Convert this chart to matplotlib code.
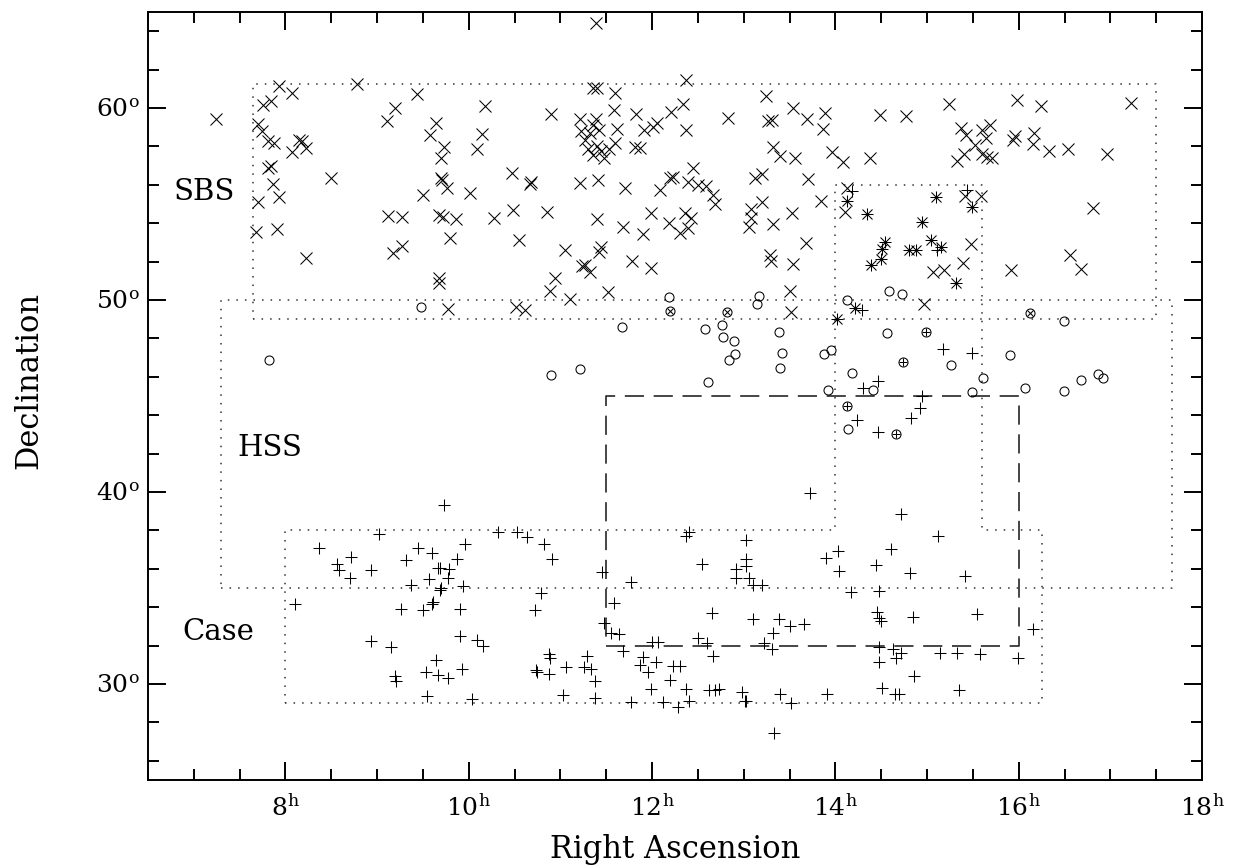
import matplotlib
matplotlib.use("Agg")
import matplotlib.pyplot as plt
from matplotlib.ticker import MultipleLocator, FuncFormatter

plt.rcParams["font.family"] = ["DejaVu Serif"]
plt.rcParams["mathtext.fontset"] = "dejavuserif"

# SBS objects only (crosses)
sbs_ra = [7.24, 7.93, 8.07, 8.78, 9.43, 7.75, 7.84, 9.20, 9.11, 9.64,
          7.70, 7.74, 9.58, 7.81, 7.87, 8.15, 8.18, 8.22, 8.07, 9.73,
          9.70, 7.84, 7.81, 8.50, 9.70, 9.71, 9.76, 7.86, 7.93, 9.50,
          7.70, 9.12, 9.27, 9.67, 9.72, 9.86, 7.68, 7.91, 9.80, 9.17,
          9.27, 8.22, 9.67, 9.67, 9.77,
          11.36, 11.40, 11.60, 12.37, 12.34, 12.21, 10.18, 10.90, 11.58, 11.82,
          11.21, 11.39, 11.35, 11.22, 11.32, 11.42, 11.62, 11.27, 11.40, 11.30,
          11.36, 11.44, 11.48, 11.53, 11.59, 11.81, 11.87, 11.91, 12.01, 12.05,
          12.37, 10.09, 10.14, 12.45, 12.20, 12.23, 12.39, 12.50, 12.59, 12.67,
          12.69, 10.47, 10.68, 10.67, 11.21, 11.41, 11.70, 12.09, 10.01, 10.28,
          10.48, 10.85, 11.40, 11.68, 11.90, 11.99, 12.18, 12.36, 12.43, 12.39,
          12.31, 10.55, 11.05, 11.44, 11.42, 11.78, 11.99, 11.24, 11.27, 11.32,
          10.94, 10.89, 11.10, 11.52, 10.52, 10.61, 11.39,
          13.24, 13.54, 12.83, 13.26, 13.31, 13.69, 13.89, 13.87, 14.49, 14.77,
          15.24, 15.37, 15.43, 15.52, 15.40, 15.33, 13.32, 13.40, 13.56, 13.96,
          14.08, 14.38, 13.12, 13.20, 13.70, 13.20, 13.08, 13.08, 13.06, 13.32,
          13.53, 13.84, 13.68, 13.29, 13.30, 13.54, 13.50, 13.52, 14.13, 14.11,
          15.41, 15.59, 15.48, 15.39, 15.06, 15.18, 14.97,
          15.98, 16.24, 17.23, 15.60, 15.69, 15.64, 15.96, 15.94, 16.17, 16.16,
          16.33, 16.54, 16.96, 15.60, 15.65, 15.71, 16.81, 16.56, 16.68, 15.92]
sbs_dec = [59.44, 61.14, 60.76, 61.23, 60.71, 60.14, 60.35, 60.00, 59.31, 59.22,
           59.15, 58.81, 58.58, 58.29, 58.18, 58.35, 58.30, 57.94, 57.72, 57.97,
           57.37, 56.97, 56.85, 56.33, 56.33, 56.23, 55.85, 56.05, 55.38, 55.47,
           55.08, 54.39, 54.33, 54.43, 54.34, 54.22, 53.56, 53.70, 53.25, 52.44,
           52.82, 52.21, 51.14, 50.88, 49.53,
           61.05, 61.05, 60.79, 61.44, 60.22, 59.79, 60.10, 59.70, 59.88, 59.67,
           59.41, 59.41, 59.10, 58.81, 58.70, 58.84, 58.93, 58.32, 58.03, 57.89,
           57.54, 57.75, 57.40, 57.86, 58.18, 57.97, 57.94, 58.87, 59.01, 59.22,
           58.84, 57.84, 58.67, 56.85, 56.37, 56.42, 56.12, 55.99, 55.95, 55.47,
           54.98, 56.64, 56.16, 56.02, 56.07, 56.25, 55.81, 55.73, 55.55, 54.29,
           54.69, 54.57, 54.20, 53.79, 53.44, 54.55, 54.03, 54.51, 54.25, 53.73,
           53.48, 53.10, 52.58, 52.75, 52.49, 52.01, 51.66, 51.75, 51.80, 51.44,
           51.14, 50.45, 50.07, 50.41, 49.63, 49.50, 64.43,
           60.61, 60.02, 59.50, 59.32, 59.36, 59.41, 59.76, 58.93, 59.62, 59.58,
           60.19, 58.96, 58.61, 58.06, 57.58, 57.25, 57.97, 57.51, 57.37, 57.72,
           57.20, 57.37, 56.33, 56.55, 56.30, 55.08, 54.74, 54.29, 53.79, 53.96,
           54.51, 55.16, 52.96, 52.35, 52.01, 51.89, 50.49, 49.38, 55.85, 54.60,
           55.43, 55.42, 52.93, 51.95, 51.45, 51.58, 49.79,
           60.43, 60.09, 60.27, 58.87, 59.10, 58.44, 58.55, 58.32, 58.72, 58.11,
           57.75, 57.89, 57.60, 57.63, 57.46, 57.37, 54.81, 52.35, 51.63, 51.54]

# HSS objects only (circles)
hss_ra = [9.48, 12.18, 14.58, 14.73, 14.13, 13.17, 13.14, 16.49, 14.56, 11.67,
          12.58, 12.76, 12.77, 12.89, 12.91, 12.84, 13.38, 13.42, 13.40, 12.61,
          13.88, 13.95, 13.92, 14.18, 14.41, 14.14, 15.26, 15.90, 15.61, 15.49,
          16.07, 16.49, 16.68, 16.86, 16.92, 7.82, 10.90, 11.21]
hss_dec = [49.62, 50.14, 50.49, 50.33, 50.02, 50.23, 49.81, 48.93, 48.29, 48.60,
           48.51, 48.68, 48.08, 47.89, 47.20, 46.87, 48.32, 47.25, 46.44, 45.74,
           47.20, 47.39, 45.31, 46.21, 45.30, 43.30, 46.61, 47.11, 45.95, 45.21,
           45.40, 45.26, 45.81, 46.13, 45.95, 46.87, 46.09, 46.39]

# Case objects only (plus signs)
case_ra = [14.18, 15.44, 15.11, 14.29, 14.30, 14.47, 14.24, 14.46, 13.72, 15.17,
           15.49, 14.95, 14.92, 14.83, 14.72, 9.73,
           9.02, 8.37, 9.45, 9.60, 9.96, 8.71, 8.56, 8.58, 8.93, 9.31,
           9.87, 9.66, 9.69, 9.78, 8.70, 9.57, 9.77, 9.37, 9.70, 9.69,
           9.94, 8.10, 9.26, 9.50, 9.60, 9.61, 9.90, 8.93, 9.15, 9.90,
           9.64, 9.53, 9.66, 9.77, 9.93, 9.20, 9.21, 9.54,
           10.32, 10.53, 10.63, 10.82, 10.91, 10.79, 10.72, 10.09, 10.16, 11.45,
           11.48, 11.58, 11.55, 11.64, 11.68, 10.88, 10.89, 11.29, 11.06, 10.73,
           10.74, 10.88, 11.26, 11.33, 11.38, 10.04, 11.03, 11.38, 11.77, 12.12,
           12.28, 12.40, 11.99, 12.20, 12.37, 11.90, 11.87, 11.95, 12.04, 12.23,
           12.31, 12.00, 12.06, 11.77, 12.37, 12.40, 12.54, 12.65, 12.50, 12.60,
           12.66, 12.62, 12.69, 12.73, 13.02, 13.03, 13.02, 12.92, 12.92, 13.06,
           13.10, 13.10, 12.98, 13.01, 13.03,
           15.12, 14.03, 13.90, 14.04, 14.61, 14.44, 14.81, 15.41, 13.20, 14.17,
           14.48, 13.39, 13.50, 13.66, 13.32, 13.22, 13.31, 14.45, 14.48, 14.50,
           14.85, 15.55, 16.16, 14.48, 14.48, 14.63, 14.66, 14.72, 15.14, 15.33,
           15.58, 15.99, 14.86, 14.51, 14.65, 14.69, 15.35, 13.40, 13.52, 13.91,
           13.33]
case_dec = [55.68, 55.73, 52.61, 49.50, 45.40, 45.78, 43.75, 43.15, 39.95, 47.45,
            47.22, 45.00, 44.36, 43.84, 38.86, 39.34,
            37.79, 37.10, 37.10, 36.84, 37.30, 36.61, 36.26, 35.92, 35.95, 36.44,
            36.49, 36.04, 36.04, 36.00, 35.52, 35.49, 35.52, 35.14, 35.02, 34.92,
            35.09, 34.19, 33.89, 33.84, 34.15, 34.27, 33.89, 32.23, 31.94, 32.51,
            31.25, 30.64, 30.47, 30.33, 30.76, 30.42, 30.16, 29.38,
            37.94, 37.94, 37.68, 37.27, 36.52, 34.76, 33.84, 32.28, 31.99, 35.83,
            33.20, 34.24, 32.66, 32.58, 31.73, 31.56, 31.37, 31.47, 30.90, 30.73,
            30.61, 30.52, 30.90, 30.76, 30.16, 29.21, 29.43, 29.29, 29.08, 29.05,
            28.82, 29.13, 29.74, 30.21, 29.74, 31.39, 30.99, 30.61, 31.13, 30.93,
            30.93, 32.20, 32.20, 35.31, 37.70, 37.90, 36.23, 33.70, 32.40, 32.14,
            31.45, 29.69, 29.69, 29.74, 37.51, 36.52, 36.14, 36.00, 35.52, 35.52,
            35.14, 33.36, 29.57, 29.13, 29.10,
            37.73, 36.95, 36.58, 35.86, 37.04, 36.18, 35.80, 35.61, 35.14, 34.79,
            34.84, 33.36, 33.03, 33.11, 32.68, 32.11, 31.82, 33.75, 33.46, 33.29,
            33.49, 33.63, 32.89, 31.94, 31.16, 31.82, 31.37, 31.64, 31.64, 31.64,
            31.54, 31.37, 30.42, 29.81, 29.48, 29.48, 29.69, 29.47, 29.03, 29.47,
            27.44]

# objects in two surveys
sbs_case_ra = [14.13, 14.34, 14.95, 15.10, 15.49, 14.54, 14.51, 14.50, 14.39, 14.80,
               14.88, 15.04, 15.15, 15.32, 14.21, 14.02]
sbs_case_dec = [55.16, 54.46, 54.08, 55.38, 54.86, 53.04, 52.65, 52.13, 51.80, 52.61,
                52.61, 53.13, 52.75, 50.88, 49.58, 49.03]
sbs_hss_ra = [12.20, 12.82, 16.12]
sbs_hss_dec = [49.41, 49.36, 49.32]
hss_case_ra = [14.99, 14.74, 14.13, 14.66]
hss_case_dec = [48.32, 46.78, 44.48, 43.04]

# survey outlines (RA in hours, Dec in degrees)
sbs_box_ra = [7.65, 17.5, 17.5, 7.65, 7.65]
sbs_box_dec = [49, 49, 61.25, 61.25, 49]
hss_box_ra = [7.3, 17.67, 17.67, 7.3, 7.3]
hss_box_dec = [35, 35, 50, 50, 35]
case_box_ra = [8, 16.25, 16.25, 15.6, 15.6, 14, 14, 8, 8]
case_box_dec = [29, 29, 38, 38, 56, 56, 38, 38, 29]
deep_box_ra = [11.5, 16, 16, 11.5, 11.5]
deep_box_dec = [32, 32, 45, 45, 32]

survey_names = ["SBS", "HSS", "Case"]
name_ra = [7.11, 7.83, 7.27]
name_dec = [55.21, 41.89, 32.28]

fig = plt.figure(figsize=(12.35, 8.68), dpi=100)
ax = fig.add_axes([148 / 1235, 1 - 780 / 868, 1054 / 1235, 768 / 868])

dot = (0, (1.0, 4.6))
for bra, bdec in [(sbs_box_ra, sbs_box_dec), (hss_box_ra, hss_box_dec),
                  (case_box_ra, case_box_dec)]:
    ax.plot(bra, bdec, color="0.2", lw=1.1, linestyle=dot)
ax.plot(deep_box_ra, deep_box_dec, color="0.15", lw=1.2, linestyle=(0, (11.5, 5.8)))

mk = dict(linestyle="none", color="black", mfc="none", mew=0.75)
ax.plot(sbs_ra, sbs_dec, marker="x", ms=9, **mk)
ax.plot(hss_ra, hss_dec, marker="o", ms=6.5, **mk)
ax.plot(case_ra, case_dec, marker="+", ms=8, **mk)
ax.plot(sbs_case_ra, sbs_case_dec, marker="x", ms=6.5, **mk)
ax.plot(sbs_case_ra, sbs_case_dec, marker="+", ms=8, **mk)
ax.plot(sbs_hss_ra, sbs_hss_dec, marker="o", ms=6.5, **mk)
ax.plot(sbs_hss_ra, sbs_hss_dec, marker="x", ms=4.2, **mk)
ax.plot(hss_case_ra, hss_case_dec, marker="o", ms=6.5, **mk)
ax.plot(hss_case_ra, hss_case_dec, marker="+", ms=5.5, **mk)

for name, r, d in zip(survey_names, name_ra, name_dec):
    ax.text(r, d, name, fontsize=21, ha="center", va="baseline")

ax.set_xlim(6.5, 18)
ax.set_ylim(25, 65)
ax.xaxis.set_major_locator(MultipleLocator(2))
ax.xaxis.set_minor_locator(MultipleLocator(0.5))
ax.yaxis.set_major_locator(MultipleLocator(10))
ax.yaxis.set_minor_locator(MultipleLocator(2))
ax.xaxis.set_major_formatter(FuncFormatter(lambda v, p: r"%d$^{\rm h}$" % round(v)))
ax.yaxis.set_major_formatter(FuncFormatter(lambda v, p: r"%d$^{\rm o}$" % round(v)))

ax.tick_params(which="both", direction="in", top=True, right=True, width=1.4)
ax.tick_params(which="major", length=13)
ax.tick_params(which="minor", length=8)
ax.tick_params(axis="x", which="major", labelsize=18, pad=10)
ax.tick_params(axis="y", which="major", labelsize=18, pad=6)
for s in ax.spines.values():
    s.set_linewidth(1.4)

ax.set_xlabel("Right Ascension", fontsize=22)
ax.set_ylabel("Declination", fontsize=22)
ax.xaxis.set_label_coords(0.5, -0.07)
ax.yaxis.set_label_coords(-0.098, 0.52)

fig.savefig("out.png", dpi=100)
